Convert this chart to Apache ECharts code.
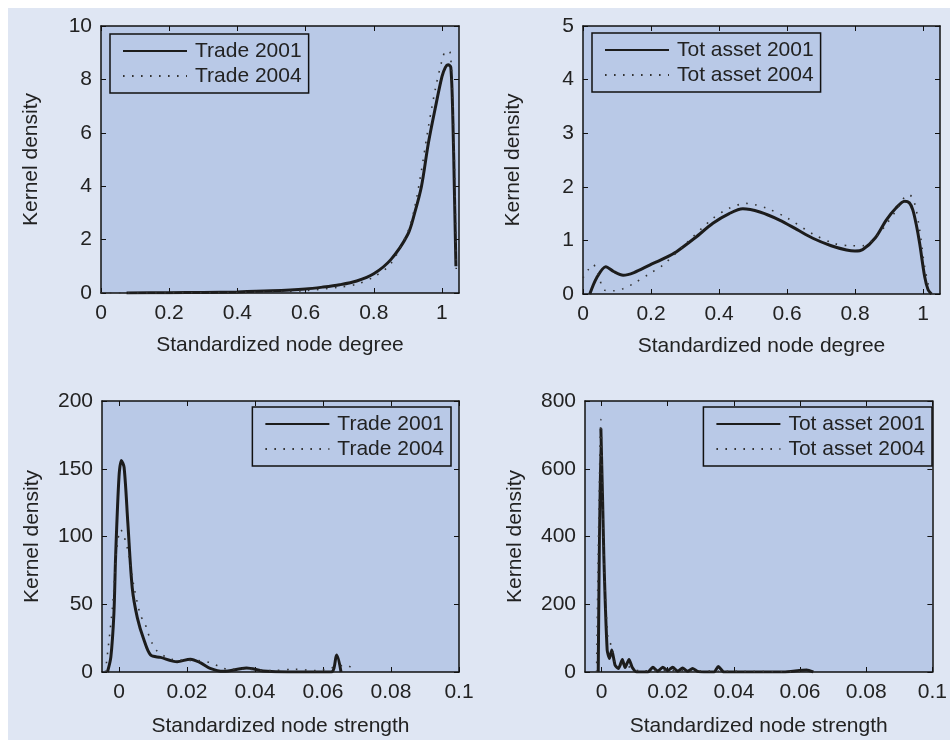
<!DOCTYPE html>
<html>
<head>
<meta charset="utf-8">
<script src="https://cdn.jsdelivr.net/npm/echarts@6/dist/echarts.min.js"></script>
<style>
html,body{margin:0;padding:0;background:#ffffff;width:950px;height:740px;overflow:hidden;}
#chart{position:absolute;left:8px;top:8px;width:942px;height:732px;}
</style>
</head>
<body>
<div id="chart"></div>
<script>
// ---------- data ----------
const degreeTicks = [0, 0.2, 0.4, 0.6, 0.8, 1];
const strengthTicks = [0, 0.02, 0.04, 0.06, 0.08, 0.1];

// Panel 1: trade, node degree
const tradeDeg2001X = [0.075, 0.2, 0.3, 0.4, 0.5, 0.6, 0.65, 0.7, 0.75, 0.8, 0.85, 0.9, 0.92, 0.94, 0.96, 0.98, 1.0, 1.01, 1.018, 1.026, 1.032, 1.037, 1.041];
const tradeDeg2001Y = [0, 0.01, 0.02, 0.04, 0.08, 0.15, 0.22, 0.31, 0.45, 0.72, 1.25, 2.2, 3.0, 4.0, 5.6, 6.9, 8.1, 8.45, 8.55, 8.45, 6.5, 3.5, 1.0];
const tradeDeg2004X = [0.0, 0.2, 0.4, 0.5, 0.6, 0.7, 0.75, 0.8, 0.85, 0.9, 0.92, 0.94, 0.96, 0.98, 1.0, 1.012, 1.024, 1.032, 1.038, 1.042];
const tradeDeg2004Y = [0, 0.003, 0.02, 0.04, 0.09, 0.22, 0.33, 0.6, 1.1, 2.3, 3.2, 4.6, 6.2, 7.6, 8.7, 9.07, 9.0, 7.0, 4.0, 0.9];

// Panel 2: total assets, node degree
const assetDeg2001X = [0.02, 0.04, 0.067, 0.09, 0.118, 0.15, 0.196, 0.24, 0.275, 0.33, 0.382, 0.43, 0.47, 0.52, 0.578, 0.63, 0.676, 0.73, 0.775, 0.8, 0.823, 0.86, 0.892, 0.92, 0.946, 0.96, 0.97, 0.98, 0.99, 1.005, 1.015, 1.025];
const assetDeg2001Y = [0, 0.3, 0.51, 0.42, 0.35, 0.4, 0.54, 0.67, 0.79, 1.05, 1.32, 1.5, 1.59, 1.53, 1.38, 1.2, 1.04, 0.9, 0.82, 0.8, 0.83, 1.05, 1.38, 1.6, 1.73, 1.7, 1.57, 1.3, 0.95, 0.32, 0.08, 0];
const assetDeg2004X = [0.0, 0.015, 0.03, 0.045, 0.064, 0.09, 0.118, 0.15, 0.196, 0.235, 0.304, 0.382, 0.43, 0.48, 0.54, 0.6, 0.676, 0.74, 0.79, 0.823, 0.86, 0.892, 0.92, 0.945, 0.96, 0.975, 0.99, 1.005, 1.02];
const assetDeg2004Y = [0.3, 0.45, 0.55, 0.35, 0.07, 0.06, 0.1, 0.2, 0.38, 0.54, 0.95, 1.41, 1.6, 1.69, 1.6, 1.42, 1.12, 0.94, 0.9, 0.9, 1.05, 1.3, 1.55, 1.8, 1.85, 1.7, 1.2, 0.5, 0.05];

// Panel 3: trade, node strength
const tradeStr2001X = [-0.0034, -0.0024, -0.0015, -0.001, 0, 0.0007, 0.0015, 0.0026, 0.0039, 0.0054, 0.0073, 0.0093, 0.0122, 0.0171, 0.021, 0.0239, 0.0268, 0.0307, 0.0375, 0.0424, 0.05, 0.0624, 0.064, 0.0653];
const tradeStr2001Y = [0, 11, 43, 85, 144, 156, 151, 110, 62, 40, 24, 12.5, 10.8, 7.6, 9.5, 6.9, 2.7, 0.5, 2.9, 0.8, 0, 0, 12.5, 0];
const tradeStr2004X = [-0.004, -0.0019, -0.0007, 0.0005, 0.0024, 0.0044, 0.0063, 0.0076, 0.0085, 0.0096, 0.011, 0.0156, 0.0239, 0.0268, 0.0292, 0.032, 0.0375, 0.045, 0.0517, 0.058, 0.0668, 0.07];
const tradeStr2004Y = [0, 48, 90, 105, 92, 63, 42, 36, 29, 22, 16, 9.3, 8.3, 6.9, 4.4, 2, 2, 1, 2, 1, 5, 0];

// Panel 4: total assets, node strength
const assetStr2001X = [-0.001, -0.0002, 0.0007, 0.0017, 0.0024, 0.0031, 0.0041, 0.0051, 0.0063, 0.0071, 0.0083, 0.0093, 0.0106, 0.014, 0.0155, 0.017, 0.0185, 0.02, 0.0215, 0.023, 0.0245, 0.026, 0.0275, 0.029, 0.031, 0.034, 0.0353, 0.037, 0.045, 0.055, 0.062, 0.064];
const assetStr2001Y = [0, 718, 340, 65, 40, 65, 20, 10, 37, 13, 37, 13, 0, 0, 14, 2, 14, 4, 14, 2, 12, 2, 10, 2, 0, 0, 16, 0, 0, 0, 6, 0];
const assetStr2004X = [-0.0015, -0.0002, 0.0008, 0.002, 0.003, 0.004, 0.005, 0.007, 0.009, 0.012, 0.02, 0.03, 0.04, 0.06];
const assetStr2004Y = [0, 745, 300, 90, 80, 30, 20, 25, 10, 3, 5, 3, 2, 0];

// ---------- styling / layout ----------
const OX = 8, OY = 8;
const FONT = '"Liberation Sans", Arial, Helvetica, sans-serif';
const TXT = '#222222';
const PLOT_BG = '#b9c9e7';
const PAGE_BG = '#dfe6f3';

function zip(xs, ys) { return xs.map((x, i) => [x, ys[i]]); }

const grids = [
  {left: 101, top: 26, width: 358, height: 267},
  {left: 583, top: 26, width: 357, height: 268},
  {left: 102, top: 401, width: 357, height: 271},
  {left: 585, top: 401, width: 355, height: 271}
].map(g => ({left: g.left - OX, top: g.top - OY, width: g.width, height: g.height,
  show: true, backgroundColor: PLOT_BG, borderWidth: 0, containLabel: false}));

const xRanges = [[0, 1.05, degreeTicks], [0, 1.05, degreeTicks], [-0.005, 0.1, strengthTicks], [-0.005, 0.1, strengthTicks]];
const yRanges = [[0, 10, 2], [0, 5, 1], [0, 200, 50], [0, 800, 200]];
const xNames = ['Standardized node degree', 'Standardized node degree', 'Standardized node strength', 'Standardized node strength'];
const xNameGaps = [42, 42, 44, 44];

const axLine = {show: true, onZero: false, lineStyle: {color: '#111', width: 1.5}};
const tick = {show: true, inside: true, length: 5, lineStyle: {color: '#111', width: 1}};
const xAxis = [], yAxis = [];
for (let i = 0; i < 4; i++) {
  const [mn, mx, ticks] = xRanges[i];
  xAxis.push({
    type: 'value', gridIndex: i, position: 'bottom', min: mn, max: mx,
    name: xNames[i], nameLocation: 'middle', nameGap: xNameGaps[i],
    nameTextStyle: {fontSize: 21, color: TXT, fontFamily: FONT},
    axisLine: axLine,
    axisTick: Object.assign({customValues: ticks}, tick),
    axisLabel: {show: true, margin: 10, fontSize: 21, color: TXT, fontFamily: FONT, customValues: ticks},
    splitLine: {show: false}
  });
  xAxis.push({
    type: 'value', gridIndex: i, position: 'top', min: mn, max: mx,
    axisLine: axLine,
    axisTick: Object.assign({customValues: ticks}, tick),
    axisLabel: {show: false}, splitLine: {show: false}
  });
  const [ymn, ymx, yint] = yRanges[i];
  yAxis.push({
    type: 'value', gridIndex: i, position: 'left', min: ymn, max: ymx, interval: yint,
    name: 'Kernel density', nameLocation: 'middle', nameGap: 59,
    nameTextStyle: {fontSize: 21, color: TXT, fontFamily: FONT},
    axisLine: axLine,
    axisTick: tick,
    axisLabel: {show: true, margin: 9, fontSize: 21, color: TXT, fontFamily: FONT},
    splitLine: {show: false}
  });
  yAxis.push({
    type: 'value', gridIndex: i, position: 'right', min: ymn, max: ymx, interval: yint,
    axisLine: axLine,
    axisTick: tick,
    axisLabel: {show: false}, splitLine: {show: false}
  });
}

const solidStyle = {color: '#1c1c1c', width: 3, type: 'solid'};
const dotStyle = {color: '#333333', width: 1.6, type: [1.6, 7.4], cap: 'butt'};

function mk(name, idx, data, style, smooth) {
  return {
    type: 'line', name: name, xAxisIndex: idx * 2, yAxisIndex: idx * 2,
    data: data, showSymbol: false, symbol: 'none', smooth: smooth,
    lineStyle: style, itemStyle: {color: style.color}, animation: false, z: style.type === 'solid' ? 3 : 4
  };
}

const series = [
  mk('Trade 2001', 0, zip(tradeDeg2001X, tradeDeg2001Y), solidStyle, 0.3),
  mk('Trade 2004', 0, zip(tradeDeg2004X, tradeDeg2004Y), dotStyle, 0.3),
  mk('Tot asset 2001', 1, zip(assetDeg2001X, assetDeg2001Y), solidStyle, 0.3),
  mk('Tot asset 2004', 1, zip(assetDeg2004X, assetDeg2004Y), dotStyle, 0.3),
  mk('Trade 2001', 2, zip(tradeStr2001X, tradeStr2001Y), solidStyle, 0.3),
  mk('Trade 2004', 2, zip(tradeStr2004X, tradeStr2004Y), dotStyle, 0.3),
  mk('Tot asset 2001', 3, zip(assetStr2001X, assetStr2001Y), solidStyle, 0.2),
  mk('Tot asset 2004', 3, zip(assetStr2004X, assetStr2004Y), dotStyle, 0.2)
];

function legend(pos, names) {
  return Object.assign({
    orient: 'vertical', itemWidth: 64, itemHeight: 14, itemGap: 3,
    padding: [6, 7, 6, 12], borderColor: '#111', borderWidth: 1.5, backgroundColor: PLOT_BG,
    itemStyle: {opacity: 0},
    textStyle: {fontSize: 21, color: TXT, fontFamily: FONT, lineHeight: 22, padding: [0, 0, 0, 3]},
    selectedMode: false, data: names
  }, pos);
}

const option = {
  backgroundColor: PAGE_BG,
  animation: false,
  grid: grids,
  xAxis: xAxis,
  yAxis: yAxis,
  legend: [
    legend({left: 110 - OX, top: 34 - OY}, ['Trade 2001', 'Trade 2004']),
    legend({left: 592 - OX, top: 33 - OY}, ['Tot asset 2001', 'Tot asset 2004']),
    legend({right: 499, top: 407 - OY}, ['Trade 2001', 'Trade 2004']),
    legend({right: 18, top: 407 - OY}, ['Tot asset 2001', 'Tot asset 2004'])
  ],
  series: series
};

const chart = echarts.init(document.getElementById('chart'), null, {renderer: 'canvas'});
chart.setOption(option);
</script>
</body>
</html>
